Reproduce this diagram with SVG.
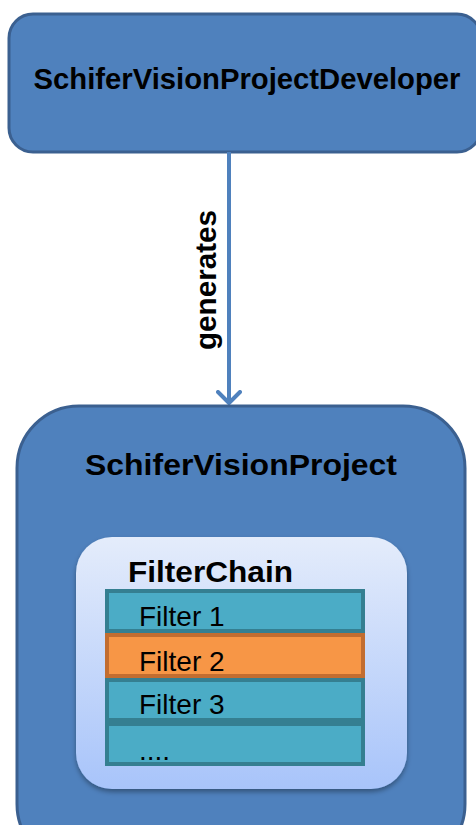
<svg xmlns="http://www.w3.org/2000/svg" width="476" height="825" viewBox="0 0 476 825">
<style>
.box{fill:#4f81bd;stroke:#3b6090;stroke-width:3}
.title{font-family:"Liberation Sans",Arial,sans-serif;font-weight:bold;fill:#000}
.flt{fill:#4bacc6;stroke:#357f91;stroke-width:4}
.flt2{fill:#f79646;stroke:#c26d30;stroke-width:4}
.ft{font-family:"Liberation Sans",Arial,sans-serif;font-size:28px;fill:#000}
</style>
<defs>
<linearGradient id="g" x1="0" y1="0" x2="0" y2="1">
<stop offset="0" stop-color="#e4ecfb"/>
<stop offset="1" stop-color="#a8c4fa"/>
</linearGradient>
<filter id="sh" x="-10%" y="-10%" width="120%" height="120%">
<feDropShadow dx="0" dy="3" stdDeviation="2.5" flood-color="#000" flood-opacity="0.35"/>
</filter>
<marker id="ah" markerWidth="16" markerHeight="26" refX="13" refY="13" orient="auto" markerUnits="userSpaceOnUse" viewBox="0 0 16 26">
<path d="M2,2 L13,13 L2,24" fill="none" stroke="#4f81bd" stroke-width="4" stroke-linecap="round" stroke-linejoin="round"/>
</marker>
</defs>
<rect width="476" height="825" fill="#fff"/>
<g id="developer">
<rect class="box" x="9" y="14" width="472" height="138" rx="24"/>
<text class="title" x="247" y="89" font-size="29" text-anchor="middle" textLength="427" lengthAdjust="spacingAndGlyphs">SchiferVisionProjectDeveloper</text>
</g>
<g id="connectors">
<line x1="229" y1="152" x2="229" y2="403" stroke="#4f81bd" stroke-width="4" marker-end="url(#ah)"/>
<text class="title" font-size="29" text-anchor="middle" transform="translate(216,280) rotate(-90)" textLength="140" lengthAdjust="spacingAndGlyphs">generates</text>
</g>
<g id="project">
<rect class="box" x="17" y="406" width="448" height="460" rx="62"/>
<text class="title" x="241" y="475" font-size="29" text-anchor="middle" textLength="312" lengthAdjust="spacingAndGlyphs">SchiferVisionProject</text>
</g>
<g id="filterchain">
<rect x="76" y="537" width="331" height="252" rx="36" fill="url(#g)" filter="url(#sh)"/>
<text class="title" x="128" y="582" font-size="29" textLength="165" lengthAdjust="spacingAndGlyphs">FilterChain</text>
</g>
<g id="filter1">
<rect class="flt" x="107" y="591" width="256" height="40"/>
<text class="ft" x="139" y="626">Filter 1</text>
</g>
<g id="filter2">
<rect class="flt2" x="107" y="635" width="256" height="41"/>
<text class="ft" x="139" y="671">Filter 2</text>
</g>
<g id="filter3">
<rect class="flt" x="107" y="680" width="256" height="40"/>
<text class="ft" x="139" y="714">Filter 3</text>
</g>
<g id="filter4">
<rect class="flt" x="107" y="724" width="256" height="40"/>
<text class="ft" x="139" y="760">....</text>
</g>
</svg>
